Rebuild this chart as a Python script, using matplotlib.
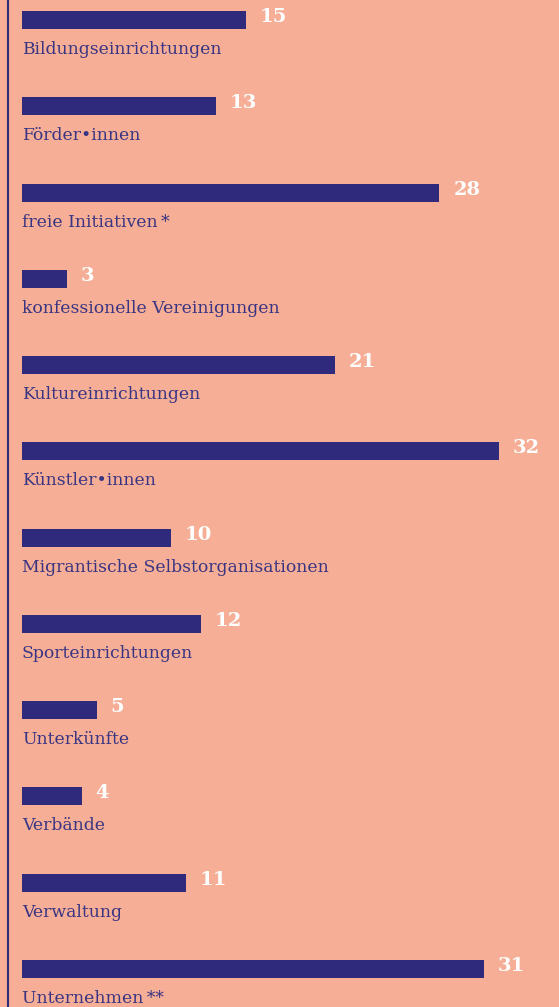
import numpy as np
from matplotlib import pyplot as plt

categories = ["Bildungseinrichtungen", "Förder•innen", "freie Initiativen\u2009*",
              "konfessionelle Vereinigungen", "Kultureinrichtungen", "Künstler•innen",
              "Migrantische Selbstorganisationen", "Sporteinrichtungen", "Unterkünfte",
              "Verbände", "Verwaltung", "Unternehmen\u2009**"]
values = [15, 13, 28, 3, 21, 32, 10, 12, 5, 4, 11, 31]

bg = "#F6AE96"
navy = "#2F2A7B"

W, H = 559, 1007
fig = plt.figure(figsize=(W / 100, H / 100), dpi=100, facecolor=bg)
ax = fig.add_axes([0, 0, 1, 1])
ax.set_facecolor(bg)

# pixel layout: bar start at x=22, 14.9 px per unit, rows every 86.27 px starting at 20
px_unit = 14.9
x0 = 22
row = 86.27
ax.set_xlim(-x0 / px_unit, (W - x0) / px_unit)
ax.set_ylim((H - 20) / row, -20 / row)

y = np.arange(len(values))
ax.barh(y, values, height=18 / row, color=navy, left=0)

for yi, v, cat in zip(y, values, categories):
    ax.annotate(str(v), (v, yi), xytext=(14 * 0.72, 3 * 0.72), textcoords="offset points",
                ha="left", va="center", color="white", fontsize=14,
                fontweight="bold", family="DejaVu Serif")
    ax.annotate(cat, (0, yi), xytext=(0, -34 * 0.72), textcoords="offset points",
                ha="left", va="baseline", color="#3A3582", fontsize=12.4,
                family="DejaVu Serif")

# left vertical rule
ax.axvline(-14 / px_unit, color=navy, lw=1.5)
ax.axis("off")

fig.savefig("out.png", facecolor=bg)
